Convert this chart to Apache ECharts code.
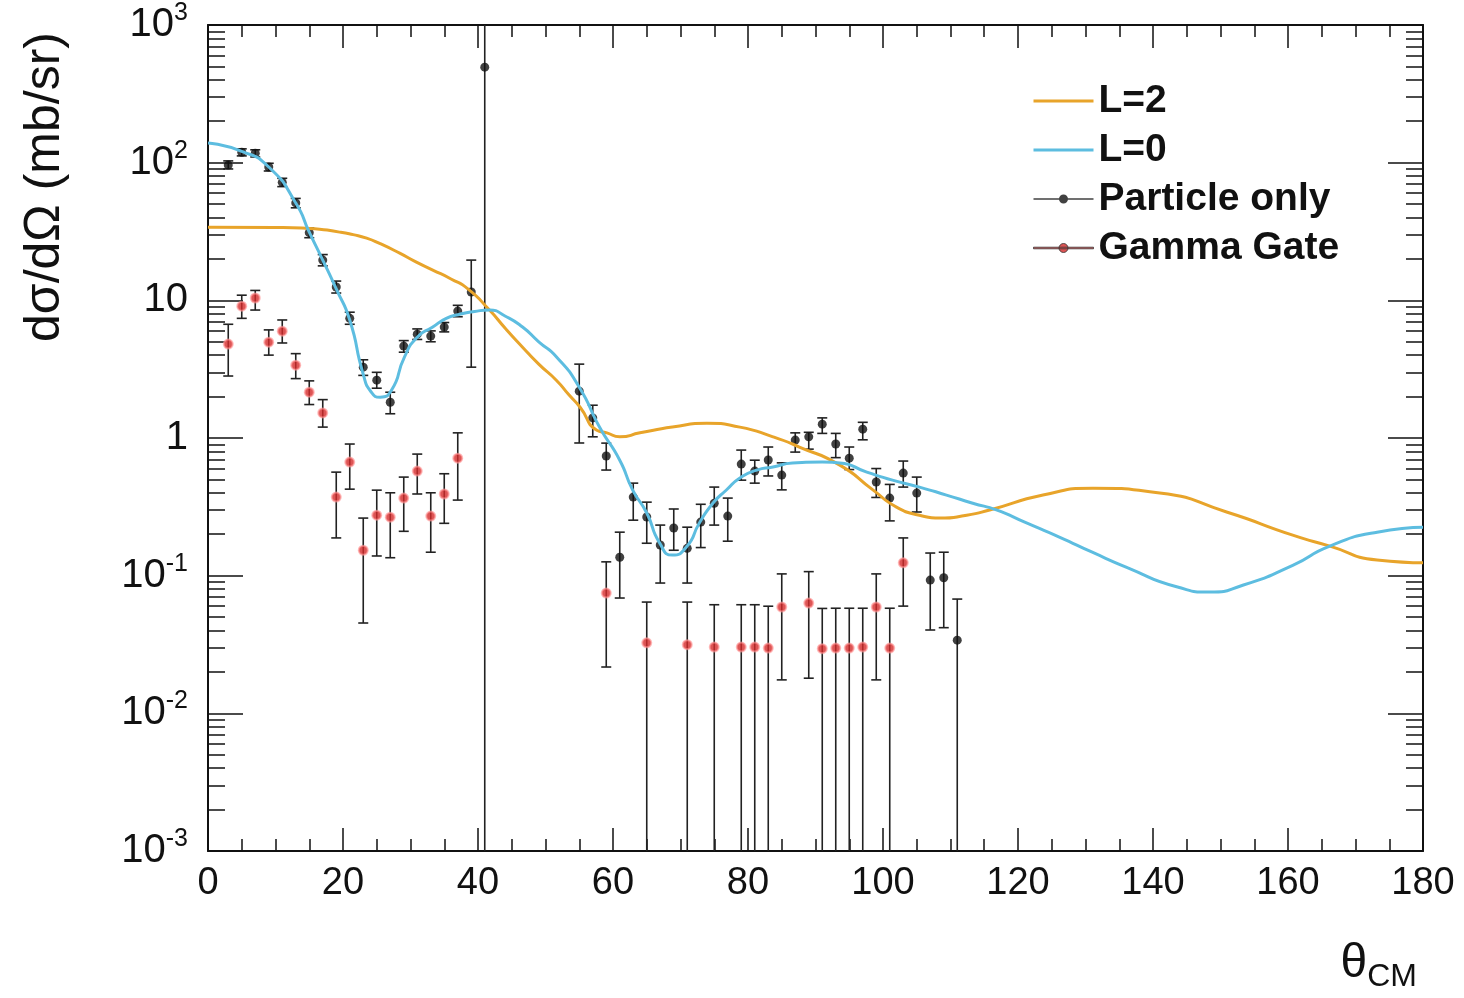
<!DOCTYPE html>
<html>
<head>
<meta charset="utf-8">
<script src="https://cdn.jsdelivr.net/npm/echarts@6/dist/echarts.min.js"></script>
<style>
html, body { margin: 0; background: #fff; }
#chart { width: 1464px; height: 998px; }
</style>
</head>
<body>
<div id="chart"></div>
<script>
// particle only (black)
var particleAngle = [3, 5, 7, 9, 11, 13, 15, 17, 19, 21, 23, 25, 27, 29, 31, 33, 35, 37, 39, 41,
    55, 57, 59, 61, 63, 65, 67, 69, 71, 73, 75, 77, 79, 81, 83, 85, 87, 89, 91, 93, 95, 97, 99, 101, 103, 105, 107, 109, 111];
var particleValue = [96, 119, 117, 93, 72, 51, 31, 19.6, 12.5, 7.4, 3.27, 2.63, 1.82, 4.65, 5.68, 5.5, 6.39, 8.35, 11.5, 494,
    2.19, 1.4, 0.74, 0.136, 0.372, 0.267, 0.167, 0.222, 0.158, 0.245, 0.336, 0.271, 0.646, 0.575, 0.692, 0.538, 0.966, 1.02, 1.26, 0.904, 0.714, 1.16, 0.479, 0.366, 0.556, 0.398, 0.0929, 0.0965, 0.034];
var particleLow = [90, 112, 110, 87, 67, 47, 28.5, 17.8, 11.3, 6.7, 2.85, 2.3, 1.5, 4.2, 5.2, 5.0, 5.9, 7.6, 3.27, 0.0001,
    0.92, 1.02, 0.585, 0.0688, 0.253, 0.172, 0.0884, 0.153, 0.0884, 0.16, 0.233, 0.178, 0.494, 0.47, 0.53, 0.42, 0.79, 0.83, 1.08, 0.72, 0.59, 0.97, 0.37, 0.25, 0.44, 0.29, 0.0403, 0.0419, 0.0001];
var particleHigh = [103, 126, 124, 99, 77, 55, 33.5, 21.5, 13.8, 8.2, 3.7, 3.0, 2.15, 5.1, 6.2, 6.0, 6.9, 9.2, 19.6, 10000,
    3.44, 1.73, 0.918, 0.207, 0.47, 0.342, 0.233, 0.305, 0.225, 0.33, 0.44, 0.366, 0.817, 0.69, 0.86, 0.66, 1.09, 1.1, 1.4, 1.08, 0.86, 1.3, 0.6, 0.46, 0.68, 0.52, 0.146, 0.148, 0.0676];

// gamma gate (red)
var gammaAngle = [3, 5, 7, 9, 11, 13, 15, 17, 19, 21, 23, 25, 27, 29, 31, 33, 35, 37,
    59, 65, 71, 75, 79, 81, 83, 85, 89, 91, 93, 95, 97, 99, 101, 103];
var gammaValue = [4.81, 9.07, 10.4, 4.97, 5.97, 3.38, 2.15, 1.52, 0.372, 0.668, 0.153, 0.275, 0.266, 0.366, 0.575, 0.271, 0.392, 0.714,
    0.0748, 0.0325, 0.0315, 0.0303, 0.0303, 0.0303, 0.0298, 0.0592, 0.0632, 0.0295, 0.0298, 0.0298, 0.0303, 0.0592, 0.0298, 0.124];
var gammaLow = [2.82, 7.4, 8.5, 4.0, 4.9, 2.7, 1.75, 1.2, 0.188, 0.425, 0.0453, 0.139, 0.135, 0.21, 0.392, 0.148, 0.24, 0.354,
    0.0217, 0.0001, 0.0001, 0.0001, 0.0001, 0.0001, 0.0001, 0.0175, 0.018, 0.0001, 0.0001, 0.0001, 0.0001, 0.0175, 0.0001, 0.0601];
var gammaHigh = [6.7, 10.9, 11.8, 6.1, 7.2, 4.1, 2.6, 1.9, 0.565, 0.904, 0.262, 0.418, 0.4, 0.52, 0.764, 0.4, 0.55, 1.09,
    0.126, 0.0643, 0.0643, 0.0615, 0.0615, 0.0615, 0.06, 0.103, 0.107, 0.0578, 0.058, 0.058, 0.058, 0.103, 0.058, 0.188];

// L=0 curve (blue)
var l0Angle = [0, 5, 9, 13, 15, 17, 19, 21, 23, 24.2, 25.5, 27.2, 29.1, 31, 33.3, 35.3, 37.2, 39.5, 41.7, 44, 46.6, 49, 51.6, 55, 58,
    61, 62.9, 65, 66.9, 68.8, 70.9, 72.8, 74.8, 76.8, 78.8, 81.3, 83.7, 86.6, 91, 93.6, 97.6, 101.4, 105.4, 109.4, 113.3, 116.9,
    121, 126.2, 131, 136.1, 143.5, 148.4, 153.4, 160.7, 166.2, 173.2, 180];
var l0Value = [139, 121, 93, 51, 31.3, 19.6, 12.1, 7.2, 2.9, 2.15, 1.98, 2.23, 3.87, 5.4, 6.4, 7.4, 7.9, 8.3, 8.5, 7.7, 6.4, 5.0, 3.9, 2.34, 1.2,
    0.69, 0.42, 0.285, 0.173, 0.141, 0.162, 0.241, 0.336, 0.419, 0.512, 0.585, 0.615, 0.658, 0.668, 0.658, 0.565, 0.494, 0.44, 0.385, 0.336, 0.299,
    0.245, 0.19, 0.148, 0.115, 0.083, 0.076, 0.0855, 0.119, 0.164, 0.207, 0.225];

// L=2 curve (orange)
var l2Angle = [0, 10, 15, 19.5, 21.5, 23.5, 25.5, 28.4, 30.8, 33.3, 36, 38.5, 41.7, 44, 46.6, 49, 51.6, 53.5, 55.1, 57.6, 59.1, 61, 64, 68.8, 73.9, 78.8, 83.7, 87.6,
    93.6, 98.5, 102, 105.4, 108.4, 112.4, 115.8, 123.7, 131.1, 141, 150.9, 160.7, 166.2, 173.2, 180];
var l2Value = [34, 33.8, 33.3, 31.3, 30.0, 28.3, 25.8, 22, 19.0, 16.6, 14.3, 12.1, 8.5, 6.3, 4.57, 3.44, 2.63, 2.05, 1.68, 1.14, 1.09, 1.02, 1.09, 1.2, 1.28, 1.2, 1.02, 0.86,
    0.635, 0.42, 0.315, 0.275, 0.262, 0.275, 0.3, 0.385, 0.432, 0.398, 0.29, 0.197, 0.164, 0.13, 0.124];

var xTicks = { min: 0, max: 180, interval: 20 };
var yRange = { min: 0.001, max: 1000 };

var yMinorTicks = [];
for (var e = -3; e < 3; e++) {
    for (var k = 2; k <= 9; k++) yMinorTicks.push(e + Math.log10(k));
}

function zip(a, b) { return a.map(function (v, i) { return [v, b[i]]; }); }
function zip3(a, b, c) { return a.map(function (v, i) { return [v, b[i], c[i]]; }); }

var FONT = 'Liberation Sans';
var INK = '#111';

function renderErr(params, api) {
    var x = api.value(0);
    var lo = api.coord([x, api.value(1)]);
    var hi = api.coord([x, api.value(2)]);
    var cap = 5;
    var st = { stroke: '#222', lineWidth: 1.6 };
    return {
        type: 'group',
        children: [
            { type: 'line', shape: { x1: lo[0], y1: lo[1], x2: hi[0], y2: hi[1] }, style: st },
            { type: 'line', shape: { x1: hi[0] - cap, y1: hi[1], x2: hi[0] + cap, y2: hi[1] }, style: st },
            { type: 'line', shape: { x1: lo[0] - cap, y1: lo[1], x2: lo[0] + cap, y2: lo[1] }, style: st }
        ]
    };
}

var dotIcon = 'path://M0,9.2H60V10.8H0Z M34.5,10A4.5,4.5 0 1 1 25.5,10A4.5,4.5 0 1 1 34.5,10Z';
var lineIcon = 'path://M0,8.5H60V11.5H0Z';

function xAxisOf(pos, labels) {
    return {
        type: 'value', position: pos, min: xTicks.min, max: xTicks.max, interval: xTicks.interval,
        axisLine: { onZero: false, lineStyle: { color: INK, width: 2 } },
        axisTick: { inside: true, length: 23, lineStyle: { color: INK, width: 1.5 } },
        minorTick: { show: true, splitNumber: 4, length: 12, lineStyle: { color: INK, width: 1.5 } },
        splitLine: { show: false },
        axisLabel: { show: labels, margin: 14, fontSize: 38, fontFamily: FONT, color: INK }
    };
}

function yMajorOf(pos, labels) {
    return {
        type: 'log', logBase: 10, position: pos, min: yRange.min, max: yRange.max,
        axisLine: { onZero: false, lineStyle: { color: INK, width: 2 } },
        axisTick: { inside: true, length: 35, lineStyle: { color: INK, width: 1.5 } },
        splitLine: { show: false },
        axisLabel: {
            show: labels, margin: 20, fontSize: 40, fontFamily: FONT, color: INK,
            formatter: function (v) {
                var ex = Math.round(Math.log10(v));
                if (ex === 0) return '1';
                if (ex === 1) return '10';
                return '{b|10}{s|' + ex + '}';
            },
            rich: {
                b: { fontSize: 40, fontFamily: FONT, color: INK },
                s: { fontSize: 25, fontFamily: FONT, color: INK, padding: [0, 0, 24, 0] }
            }
        }
    };
}

function yMinorOf(pos) {
    return {
        type: 'value', position: pos, min: -3, max: 3,
        axisLine: { show: false, onZero: false },
        axisLabel: { show: false },
        splitLine: { show: false },
        axisTick: { show: true, inside: true, length: 17, customValues: yMinorTicks, lineStyle: { color: INK, width: 1.5 } }
    };
}

var chart = echarts.init(document.getElementById('chart'));
chart.setOption({
    animation: false,
    backgroundColor: '#fff',
    grid: { left: 208, right: 41, top: 25, bottom: 147 },
    title: {
        text: '{t|θ}{s|CM}',
        right: 42, top: 930,
        textStyle: {
            fontWeight: 'normal',
            rich: {
                t: { fontSize: 48, fontWeight: 'normal', fontFamily: FONT, color: INK },
                s: { fontSize: 32, fontWeight: 'normal', fontFamily: FONT, color: INK, padding: [26, 0, 0, 0] }
            }
        }
    },
    graphic: [{
        type: 'text', x: 20, y: 342, rotation: Math.PI / 2,
        style: { text: 'dσ/dΩ (mb/sr)', fontSize: 50, fontFamily: FONT, fill: INK, textAlign: 'left', textVerticalAlign: 'top' }
    }],
    legend: {
        orient: 'vertical', left: 1028, top: 76,
        itemWidth: 60, itemHeight: 14, itemGap: 9, selectedMode: false,
        textStyle: { fontSize: 39, fontWeight: 'bold', fontFamily: FONT, color: INK, lineHeight: 40 },
        data: [
            { name: 'L=2', icon: lineIcon },
            { name: 'L=0', icon: lineIcon },
            { name: 'Particle only', icon: dotIcon, itemStyle: { color: '#111' } },
            { name: 'Gamma Gate', icon: dotIcon, itemStyle: { color: '#d42a2a', borderColor: '#333', borderWidth: 1 } }
        ]
    },
    xAxis: [xAxisOf('bottom', true), xAxisOf('top', false)],
    yAxis: [yMajorOf('left', true), yMajorOf('right', false), yMinorOf('left'), yMinorOf('right')],
    series: [
        {
            name: 'Particle only err', type: 'custom', renderItem: renderErr, clip: true, z: 2,
            encode: { x: 0, y: [1, 2] },
            data: zip3(particleAngle, particleLow, particleHigh)
        },
        {
            name: 'Gamma Gate err', type: 'custom', renderItem: renderErr, clip: true, z: 2,
            encode: { x: 0, y: [1, 2] },
            data: zip3(gammaAngle, gammaLow, gammaHigh)
        },
        {
            name: 'Particle only', type: 'scatter', symbolSize: 9, z: 3,
            itemStyle: { color: '#111' },
            data: zip(particleAngle, particleValue)
        },
        {
            name: 'Gamma Gate', type: 'scatter', symbolSize: 9, z: 3,
            itemStyle: { color: '#d42a2a', borderColor: 'rgba(255,150,150,0.8)', borderWidth: 2 },
            data: zip(gammaAngle, gammaValue)
        },
        {
            name: 'L=2', type: 'line', smooth: 0.6, showSymbol: false, symbol: 'none', z: 4,
            lineStyle: { color: '#e8a42a', width: 3 }, itemStyle: { color: '#e8a42a' },
            data: zip(l2Angle, l2Value)
        },
        {
            name: 'L=0', type: 'line', smooth: 0.6, showSymbol: false, symbol: 'none', z: 4,
            lineStyle: { color: '#5dbde0', width: 3 }, itemStyle: { color: '#5dbde0' },
            data: zip(l0Angle, l0Value)
        }
    ]
});
</script>
</body>
</html>
